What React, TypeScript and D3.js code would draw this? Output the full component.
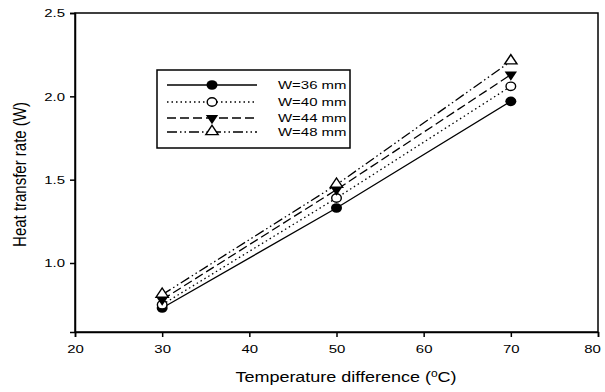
import React, { useEffect, useRef } from 'react';
import * as d3 from 'd3';

const temps = [30, 50, 70];
const w36 = [0.73, 1.33, 1.97];
const w40 = [0.75, 1.39, 2.06];
const w44 = [0.78, 1.44, 2.13];
const w48 = [0.81, 1.47, 2.21];
const seriesNames = ['W=36 mm', 'W=40 mm', 'W=44 mm', 'W=48 mm'];
const xTicks = [20, 30, 40, 50, 60, 70, 80];
const yTicks = [1.0, 1.5, 2.0, 2.5];

const App = () => {
  const ref = useRef<SVGSVGElement>(null);

  useEffect(() => {
    const svg = d3.select(ref.current);
    svg.selectAll('*').remove();

    const left = 75, right = 598, top = 13, bottom = 332;
    const x = d3.scaleLinear().domain([20, 80]).range([left, right]);
    const y = d3.scaleLinear().domain([0.586, 2.5]).range([bottom, top]);
    const font = 'Arial, "Liberation Sans", sans-serif';
    const sx = 1.3; // the reference text is stretched sideways

    // frame
    svg.append('rect')
      .attr('x', left).attr('y', top)
      .attr('width', right - left).attr('height', bottom - top)
      .attr('fill', 'none').attr('stroke', '#000').attr('stroke-width', 1.5);

    const xAxis = svg.append('g')
      .attr('transform', `translate(0,${bottom})`)
      .call(d3.axisBottom(x).tickValues(xTicks).tickSize(5).tickPadding(8).tickFormat(d3.format('d')));
    const yAxis = svg.append('g')
      .attr('transform', `translate(${left},0)`)
      .call(d3.axisLeft(y).tickValues(yTicks).tickSize(5).tickPadding(8).tickFormat(d3.format('.1f')));
    [xAxis, yAxis].forEach(g => {
      g.select('.domain').attr('stroke-width', 1.5);
      g.selectAll('.tick line').attr('stroke-width', 1.5);
      g.selectAll('text').attr('font-family', font).attr('font-size', 11.5).attr('fill', '#000');
    });
    // last label sits a little left of its tick so it stays inside the page
    xAxis.selectAll('.tick text')
      .attr('transform', (d: any) => `translate(${d === 80 ? -6 : 0},0) scale(${sx},1)`);
    yAxis.selectAll('.tick text')
      .attr('x', 0)
      .attr('transform', `translate(-10,0) scale(${sx},1)`);

    svg.append('text')
      .attr('transform', `translate(346,382) scale(1.2,1)`)
      .attr('text-anchor', 'middle')
      .attr('font-family', font).attr('font-size', 15)
      .html('Temperature difference (<tspan baseline-shift="super" font-size="10">o</tspan>C)');

    svg.append('text')
      .attr('transform', `translate(26,${(top + bottom) / 2 + 2}) rotate(-90) scale(1,1.2)`)
      .attr('text-anchor', 'middle')
      .attr('font-family', font).attr('font-size', 15)
      .text('Heat transfer rate (W)');

    const series = [w36, w40, w44, w48];
    const dashes = ['none', '1.5,3', '9,4', '10,3,1.5,3,1.5,3'];
    const tri = d3.symbol().type(d3.symbolTriangle).size(50);

    const drawMarker = (g: any, i: number, cx: number, cy: number) => {
      if (i === 0) {
        g.append('ellipse').attr('cx', cx).attr('cy', cy).attr('rx', 5.5).attr('ry', 4.8).attr('fill', '#000');
      } else if (i === 1) {
        g.append('ellipse').attr('cx', cx).attr('cy', cy).attr('rx', 4.8).attr('ry', 4.2)
          .attr('fill', '#fff').attr('stroke', '#000').attr('stroke-width', 1.4);
      } else if (i === 2) {
        g.append('path').attr('d', tri())
          .attr('transform', `translate(${cx},${cy}) rotate(180) scale(1.15,1)`).attr('fill', '#000');
      } else {
        g.append('path').attr('d', tri())
          .attr('transform', `translate(${cx},${cy - 0.5}) scale(1.15,1)`)
          .attr('fill', '#fff').attr('stroke', '#000').attr('stroke-width', 1.3);
      }
    };

    const line = d3.line<number>().x((_, j) => x(temps[j])).y(d => y(d));
    series.forEach((vals, i) => {
      svg.append('path').datum(vals)
        .attr('d', line)
        .attr('fill', 'none').attr('stroke', '#000').attr('stroke-width', 1.3)
        .attr('stroke-dasharray', dashes[i]);
    });
    series.forEach((vals, i) => {
      const g = svg.append('g');
      vals.forEach((v, j) => drawMarker(g, i, x(temps[j]), y(v)));
    });

    // legend
    const leg = svg.append('g');
    leg.append('rect')
      .attr('x', 157).attr('y', 70).attr('width', 193).attr('height', 78)
      .attr('fill', '#fff').attr('stroke', '#000').attr('stroke-width', 1.5);
    const rowY = [85, 102, 118, 132];
    seriesNames.forEach((name, i) => {
      leg.append('line')
        .attr('x1', 167).attr('x2', 257).attr('y1', rowY[i]).attr('y2', rowY[i])
        .attr('stroke', '#000').attr('stroke-width', 1.3).attr('stroke-dasharray', dashes[i]);
      drawMarker(leg, i, 212, rowY[i]);
      leg.append('text')
        .attr('transform', `translate(278,${rowY[i] + 4}) scale(${sx},1)`)
        .attr('font-family', font).attr('font-size', 11.5)
        .text(name);
    });
  }, []);

  return <svg ref={ref} width={605} height={392} style={{ position: 'absolute', left: 0, top: 0 }} />;
};

export default App;
